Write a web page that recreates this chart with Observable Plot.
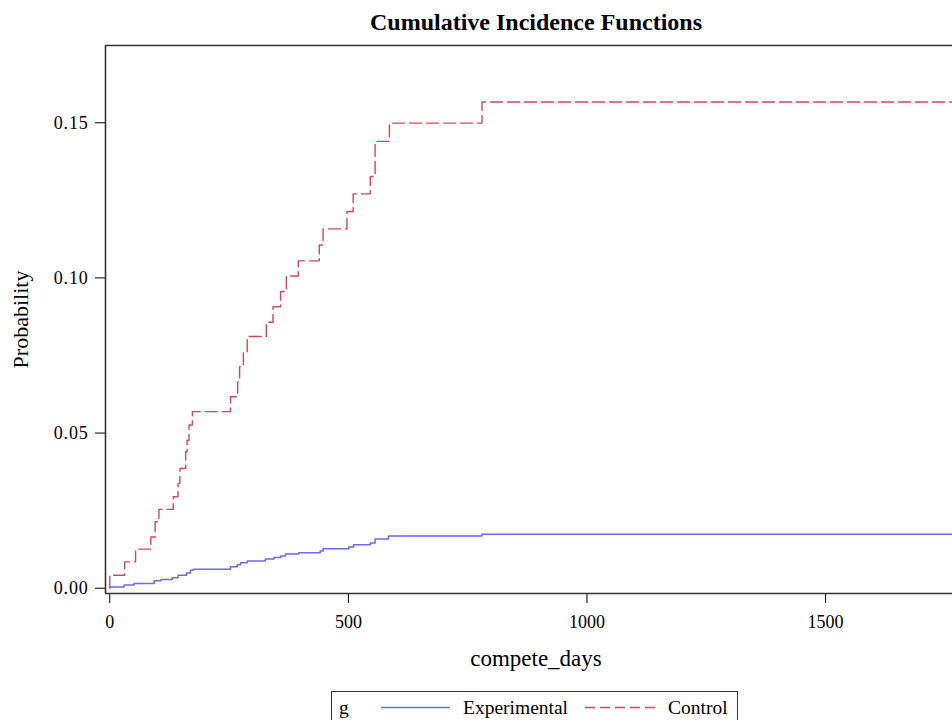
<!DOCTYPE html>
<html>
<head>
<meta charset="utf-8">
<script src="https://cdn.jsdelivr.net/npm/d3@7"></script>
<script src="https://cdn.jsdelivr.net/npm/@observablehq/plot@0.6"></script>
<style>
  html, body { margin: 0; padding: 0; background: #fff; overflow: hidden; }
  body { width: 952px; height: 720px; position: relative; font-family: "Liberation Serif", "Times New Roman", serif; }
  #title { position: absolute; left: 0; top: 0; width: 952px; height: 44px; line-height: 44px;
           font-weight: bold; font-size: 24px; color: #000; }
  #title span { position: absolute; left: 370px; top: 0; }
  #chart { position: absolute; left: 0; top: 44px; }
  #legend { position: absolute; left: 331px; top: 691px; width: 407px; height: 40px;
            border: 1px solid #333; box-sizing: border-box; font-size: 19.5px; color: #000; }
  #legend .t { position: absolute; top: 4px; line-height: 24px; }
  #legend svg { position: absolute; top: 0; }
</style>
</head>
<body>
<div id="title"><span>Cumulative Incidence Functions</span></div>
<div id="chart"></div>
<div id="legend"></div>
<script>
// ---- data ----
const groups = ["Experimental", "Control"];
const groupColors = ["#6a6aee", "#d04858"];

const expDays = [0, 30, 51, 93, 107, 131, 143, 161, 169, 175, 253, 267, 274, 288, 326, 344, 358, 368, 396, 441, 447, 501, 511, 546, 556, 584, 780, 1800];
const expProb = [0.0004, 0.0010, 0.0015, 0.0024, 0.0028, 0.0034, 0.0042, 0.0049, 0.0058, 0.0061, 0.0069, 0.0076, 0.0082, 0.0088, 0.0094, 0.0099, 0.0104, 0.0110, 0.0114, 0.0120, 0.0127, 0.0133, 0.0140, 0.0146, 0.0159, 0.0168, 0.0174, 0.0174];

const ctlDays = [0, 0, 31, 54, 86, 95, 103, 133, 143, 147, 159, 162, 166, 173, 253, 268, 272, 280, 288, 328, 342, 358, 370, 395, 439, 447, 497, 510, 546, 556, 586, 780, 1800];
const ctlProb = [0, 0.0042, 0.0085, 0.0126, 0.0165, 0.0214, 0.0254, 0.0295, 0.0338, 0.0386, 0.0440, 0.0477, 0.0526, 0.0569, 0.0617, 0.0665, 0.0714, 0.0759, 0.0811, 0.0857, 0.0907, 0.0956, 0.1006, 0.1055, 0.1106, 0.1158, 0.1214, 0.1271, 0.1327, 0.1440, 0.1499, 0.1567, 0.1567];

const xTicks = [0, 500, 1000, 1500];
const yTicks = [0, 0.05, 0.10, 0.15];
const xDomain = [-9, 1766];
const yDomain = [-0.0017, 0.1749];
const xLabel = "compete_days";
const yLabel = "Probability";
const legendTitle = "g";

// ---- build rows ----
const expRows = expDays.map((d, i) => ({day: d, p: expProb[i], g: groups[0]}));
const ctlRows = ctlDays.map((d, i) => ({day: d, p: ctlProb[i], g: groups[1]}));

const chart = Plot.plot({
  width: 952,
  height: 640,
  marginTop: 1,
  marginBottom: 91,
  marginLeft: 105,
  marginRight: 0,
  style: {fontFamily: "'Liberation Serif', 'Times New Roman', serif", fontSize: "18px", color: "#000", background: "#fff", overflow: "hidden"},
  x: {domain: xDomain, ticks: xTicks, tickFormat: d3.format("d"), tickSize: 10, tickPadding: 12, label: null},
  y: {domain: yDomain, ticks: yTicks, tickFormat: d3.format(".2f"), tickSize: 10, tickPadding: 7, label: null},
  marks: [
    Plot.line(ctlRows, {x: "day", y: "p", curve: "step-after", stroke: groupColors[1], strokeWidth: 1.4, strokeDasharray: "12,5", clip: true}),
    Plot.line(expRows, {x: "day", y: "p", curve: "step-after", stroke: groupColors[0], strokeWidth: 1.5, clip: true}),
    Plot.ruleY([yDomain[0], yDomain[1]], {stroke: "#333", strokeWidth: 1.6}),
    Plot.ruleX([xDomain[0]], {stroke: "#333", strokeWidth: 1.6}),
    Plot.text([xLabel], {frameAnchor: "bottom", dx: 7, dy: 72, fontSize: 23}),
    Plot.text([yLabel], {frameAnchor: "left", textAnchor: "middle", dx: -85, rotate: -90, fontSize: 22})
  ]
});
chart.querySelectorAll("[aria-label='y-axis tick label'] text, g[aria-label='y-axis'] text").forEach(t => t.setAttribute("letter-spacing", "0.8"));
document.getElementById("chart").appendChild(chart);

// ---- legend (below the chart) ----
const legend = document.getElementById("legend");
function addText(txt, left) {
  const s = document.createElement("span");
  s.className = "t"; s.textContent = txt; s.style.left = left + "px";
  legend.appendChild(s);
}
function addLine(left, width, color, dash) {
  const svg = d3.create("svg").attr("width", width).attr("height", 30).style("left", left + "px");
  svg.append("line").attr("x1", 0).attr("x2", width).attr("y1", 15.5).attr("y2", 15.5)
     .attr("stroke", color).attr("stroke-width", 1.4).attr("stroke-dasharray", dash || null);
  legend.appendChild(svg.node());
}
addText(legendTitle, 7);
addLine(49, 69, groupColors[0]);
addText(groups[0], 131);
addLine(253, 72, groupColors[1], "10,5");
addText(groups[1], 336);
</script>
</body>
</html>
